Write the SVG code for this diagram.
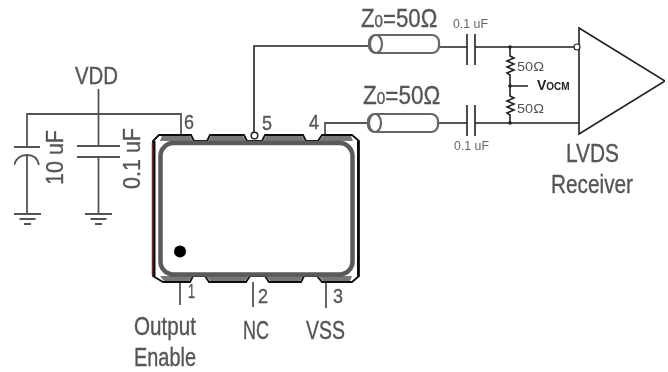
<svg xmlns="http://www.w3.org/2000/svg" width="668" height="372" viewBox="0 0 668 372">
<style>
.w{fill:none;stroke:#555;stroke-width:1.800}
.k{fill:none;stroke:#222;stroke-width:1.600}
.t{font-family:"Liberation Sans",Arial,sans-serif;fill:#555;stroke:#555;stroke-width:.35}
.l{font-size:25px}
.n{font-size:21px}
.s{font-size:12px;fill:#666;stroke:none}
.o{font-size:13px;fill:#555;stroke:none}
.cable{fill:#fff;stroke:#666;stroke-width:2.200}
</style>
<defs>
<g id="gnd" class="w"><path d="M-13.500 0H13.500M-8 5H8M-3.500 10H3.500"/></g>
<g id="cable"><rect class="cable" x="0" y="-9" width="70" height="18" rx="7"/><ellipse class="cable" cx="7" cy="0" rx="6" ry="9"/></g>
<filter id="soft" x="0" y="0" width="100%" height="100%"><feGaussianBlur stdDeviation="0.35"/></filter>
</defs>
<rect width="668" height="372" fill="#fff"/>
<g filter="url(#soft)">
<g id="connectors">
<path class="w" d="M98.500 89V146M27 147V114H181V136"/>
<path class="w" d="M27 155V214M98.500 157V214"/>
<path class="k" d="M254 132V46H369"/>
<path class="w" d="M325 136V123H367"/>
<path class="k" d="M439 47H467M475 47H574M439 123H467M475 123H579"/>
<path class="k" stroke-width="1.200" d="M510 47V56l4 2-7 3 7 3-7 3 7 3-7 3 3 2V96l4 2-7 3 7 3-7 3 7 3-7 3 3 2V123M510 86H528"/>
<circle cx="510" cy="47" r="1.800" fill="#222"/><circle cx="510" cy="86" r="1.800" fill="#222"/><circle cx="510" cy="123" r="1.800" fill="#222"/>
<path class="w" d="M180 282V305M253 282V307M326 282V308"/>
</g>
<g id="c1">
<path class="w" d="M14 147H40M14 165Q17 155 27 155Q37 155 39 165"/>
<use href="#gnd" x="27.500" y="214"/>
<text class="t n" transform="translate(63 185) rotate(-90)" style="font-size:24px" textLength="55" lengthAdjust="spacingAndGlyphs">10 uF</text>
</g>
<g id="c2">
<path class="w" d="M77 146H120M77 157H120"/>
<use href="#gnd" x="98.500" y="214"/>
<text class="t n" transform="translate(140 189) rotate(-90)" style="font-size:24px" textLength="61" lengthAdjust="spacingAndGlyphs">0.1 uF</text>
</g>
<g id="vdd"><text class="t" x="75" y="84" font-size="23" textLength="43" lengthAdjust="spacingAndGlyphs">VDD</text></g>
<g id="chip">
<path d="M153 141L159 135H191L194 141H207L210 135H244L247 141H262L265 135H303L306 141H318L322 135H352L359 141V276L352 282H322L317 276H304L301 282H269L265 276H250L246 282H209L205 276H193L190 282H163L153 276Z" fill="#fff" stroke="#111" stroke-width="1.800"/>
<path d="M152.500 143V275" stroke="#632" stroke-width="1.500"/>
<path d="M154.500 141V276M358 141V276" stroke="#111" stroke-width="2"/>
<path fill="#777" d="M160 141L162 136H190L193 141ZM208 141L211 136H243L246 141ZM263 141L266 136H302L305 141ZM319 141L323 136H351L353 141ZM160 276L164 281H189L192 276ZM206 276L210 281H245L249 276ZM266 276L270 281H300L303 276ZM318 276L323 281H350L352 276Z"/>
<rect x="160.500" y="143" width="192" height="131.500" rx="13" fill="#fff" stroke="#5a5a5a" stroke-width="4.500"/>
<circle cx="180" cy="251.500" r="6" fill="#000"/>
<circle cx="254.500" cy="135.500" r="3.300" fill="#fff" stroke="#222" stroke-width="1.500"/>
<text class="t n" x="184" y="129" textLength="10" lengthAdjust="spacingAndGlyphs">6</text>
<text class="t n" x="262" y="130" textLength="10" lengthAdjust="spacingAndGlyphs">5</text>
<text class="t n" x="309" y="129" textLength="10" lengthAdjust="spacingAndGlyphs">4</text>
<text class="t n" x="188" y="298" textLength="7" lengthAdjust="spacingAndGlyphs">1</text>
<text class="t n" x="258" y="303" textLength="10" lengthAdjust="spacingAndGlyphs">2</text>
<text class="t n" x="333" y="303" textLength="10" lengthAdjust="spacingAndGlyphs">3</text>
</g>
<g id="pin-labels">
<text class="t l" x="134" y="335" textLength="62" lengthAdjust="spacingAndGlyphs">Output</text>
<text class="t l" x="134" y="366" textLength="62" lengthAdjust="spacingAndGlyphs">Enable</text>
<text class="t l" x="243" y="339" textLength="26" lengthAdjust="spacingAndGlyphs">NC</text>
<text class="t l" x="306" y="339" textLength="39" lengthAdjust="spacingAndGlyphs">VSS</text>
</g>
<g id="line1">
<use href="#cable" x="369" y="44"/>
<text class="t l" transform="translate(361 27) scale(.89 1)">Z<tspan font-size="17">0</tspan>=50Ω</text>
</g>
<g id="line2">
<use href="#cable" x="368" y="123"/>
<text class="t l" transform="translate(363 104) scale(.9 1)">Z<tspan font-size="17">0</tspan>=50Ω</text>
</g>
<g id="caps">
<path class="k" d="M467 34V65M475 34V65M467 105V136M475 105V136"/>
<text class="t s" x="453" y="28" textLength="35" lengthAdjust="spacingAndGlyphs">0.1 uF</text>
<text class="t s" x="454" y="150" textLength="35" lengthAdjust="spacingAndGlyphs">0.1 uF</text>
</g>
<g id="resistor-labels">
<text class="t o" x="517" y="71" textLength="27" lengthAdjust="spacingAndGlyphs">50Ω</text>
<text class="t o" x="517" y="113" textLength="27" lengthAdjust="spacingAndGlyphs">50Ω</text>
<text class="t" x="537" y="90" font-size="14" font-weight="bold" style="fill:#222;stroke:none">V<tspan font-size="10">OCM</tspan></text>
</g>
<g id="receiver">
<path d="M579 28L665 81L579 134Z" fill="#fff" stroke="#222" stroke-width="1.600"/>
<circle cx="577" cy="47" r="3" fill="#fff" stroke="#222" stroke-width="1.200"/>
<text class="t l" x="566" y="162" textLength="53" lengthAdjust="spacingAndGlyphs">LVDS</text>
<text class="t l" x="551" y="193" textLength="82" lengthAdjust="spacingAndGlyphs">Receiver</text>
</g>
</g>
</svg>
